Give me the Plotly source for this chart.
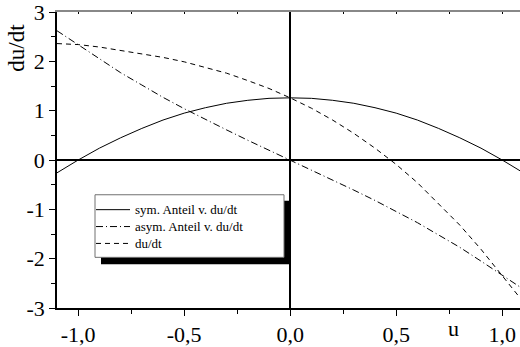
import plotly.graph_objects as go

# Sampled state values u and the three rate curves
u_vals = [-1.1, -1.0, -0.9, -0.8, -0.7, -0.6, -0.5, -0.4, -0.3, -0.2, -0.1, 0.0,
          0.1, 0.2, 0.3, 0.4, 0.5, 0.6, 0.7, 0.8, 0.9, 1.0, 1.1]
sym_part = [-0.26, 0.00, 0.24, 0.45, 0.64, 0.81, 0.95, 1.06, 1.15, 1.21, 1.25, 1.26,
            1.25, 1.21, 1.15, 1.06, 0.95, 0.81, 0.64, 0.45, 0.24, 0.00, -0.26]
asym_part = [2.62, 2.34, 2.05, 1.77, 1.52, 1.27, 1.04, 0.82, 0.61, 0.40, 0.20, 0.00,
             -0.20, -0.40, -0.61, -0.82, -1.04, -1.27, -1.52, -1.77, -2.05, -2.34, -2.62]
dudt = [2.36, 2.34, 2.29, 2.22, 2.16, 2.08, 1.99, 1.88, 1.76, 1.61, 1.45, 1.26,
        1.05, 0.81, 0.54, 0.24, -0.09, -0.46, -0.88, -1.32, -1.81, -2.34, -2.88]

series_names = ["sym. Anteil v. du/dt", "asym. Anteil v. du/dt", "du/dt"]

x_tickvals = [-1.0, -0.5, 0.0, 0.5, 1.0]
x_ticktext = ["-1,0", "-0,5", "0,0", "0,5", "1,0"]
y_tickvals = [-3, -2, -1, 0, 1, 2, 3]
y_ticktext = ["-3", "-2", "-1", "0", "1", "2", "3"]

FONT = "Liberation Serif"
W, H = 520, 347
ML, MR, MT, MB = 57, 0, 11, 38
PW, PH = W - ML - MR, H - MT - MB

dashes = ["solid", "7px,3px,1px,3px", "5px,4px"]

fig = go.Figure()
for name, vals, dash in zip(series_names, [sym_part, asym_part, dudt], dashes):
    fig.add_trace(go.Scatter(x=u_vals, y=vals, mode="lines", name=name,
                             line=dict(color="black", width=1, dash=dash),
                             showlegend=False))


def px(x, y):
    """Pixel position on the page -> paper coordinates."""
    return (x - ML) / PW, (H - MB - y) / PH


shapes = []
# legend shadow and box
x0, y0 = px(101, 201)
x1, y1 = px(290, 265)
shapes.append(dict(type="rect", xref="paper", yref="paper", x0=x0, y0=y1, x1=x1, y1=y0,
                   fillcolor="black", line=dict(width=0), layer="above"))
x0, y0 = px(95, 195)
x1, y1 = px(284, 258)
shapes.append(dict(type="rect", xref="paper", yref="paper", x0=x0, y0=y1, x1=x1, y1=y0,
                   fillcolor="white", line=dict(color="#707070", width=1), layer="above"))

annotations = []
row_y = [210, 227, 244]
for name, dash, ry in zip(series_names, dashes, row_y):
    sx0, sy = px(96, ry)
    sx1, _ = px(130, ry)
    shapes.append(dict(type="line", xref="paper", yref="paper", x0=sx0, y0=sy, x1=sx1, y1=sy,
                       line=dict(color="black", width=1, dash=dash), layer="above"))
    tx, _ = px(133, ry)
    annotations.append(dict(text=name, xref="paper", yref="paper", x=tx, y=sy,
                            xanchor="left", yanchor="middle", showarrow=False,
                            font=dict(family=FONT, size=13, color="black")))

# axis titles
ax, ay = px(17, 47)
annotations.append(dict(text="du/dt", xref="paper", yref="paper", x=ax, y=ay,
                        textangle=-90, showarrow=False, xanchor="center", yanchor="middle",
                        font=dict(family=FONT, size=23, color="black")))
ux, uy = px(453, 330)
annotations.append(dict(text="u", xref="paper", yref="paper", x=ux, y=uy,
                        showarrow=False, xanchor="center", yanchor="middle",
                        font=dict(family=FONT, size=22, color="black")))

x_range = [-1.1, -1.1 + PW / 212.0]

fig.update_layout(
    width=W, height=H,
    margin=dict(l=ML, r=MR, t=MT, b=MB, pad=0),
    paper_bgcolor="white", plot_bgcolor="white",
    font=dict(family=FONT, size=22, color="black"),
    shapes=shapes, annotations=annotations,
    xaxis=dict(range=x_range, tickmode="array", tickvals=x_tickvals, ticktext=x_ticktext,
               ticks="outside", ticklen=6, tickwidth=1, tickcolor="black",
               showline=True, linecolor="black", linewidth=1.5,
               showgrid=False, zeroline=True, zerolinecolor="black", zerolinewidth=2,
               ticklabeloverflow="allow",
               minor=dict(tickmode="array", tickvals=[-0.75, -0.25, 0.25, 0.75],
                          ticks="outside", ticklen=4, tickwidth=1, tickcolor="black"),
               tickfont=dict(family=FONT, size=22, color="black")),
    xaxis2=dict(range=x_range, overlaying="x", side="top", showline=True,
                linecolor="#888888", linewidth=2, ticks="inside", ticklen=2,
                tickcolor="black", tickmode="array",
                tickvals=[-1.0, -0.75, -0.5, -0.25, 0.0, 0.25, 0.5, 0.75, 1.0],
                showticklabels=False, showgrid=False, zeroline=False),
    yaxis=dict(range=[-3, 3], tickmode="array", tickvals=y_tickvals, ticktext=y_ticktext,
               ticks="outside", ticklen=6, tickwidth=1, tickcolor="black",
               showline=True, linecolor="black", linewidth=1.5,
               showgrid=False, zeroline=True, zerolinecolor="black", zerolinewidth=2,
               ticklabeloverflow="allow",
               minor=dict(tickmode="array", tickvals=[-2.5, -1.5, -0.5, 0.5, 1.5, 2.5],
                          ticks="outside", ticklen=4, tickwidth=1, tickcolor="black"),
               tickfont=dict(family=FONT, size=22, color="black")),
)

# invisible trace so the top axis is drawn
fig.add_trace(go.Scatter(x=[u_vals[0]], y=[None], xaxis="x2", mode="lines",
                         showlegend=False, hoverinfo="skip"))

fig.write_html("out.html")
